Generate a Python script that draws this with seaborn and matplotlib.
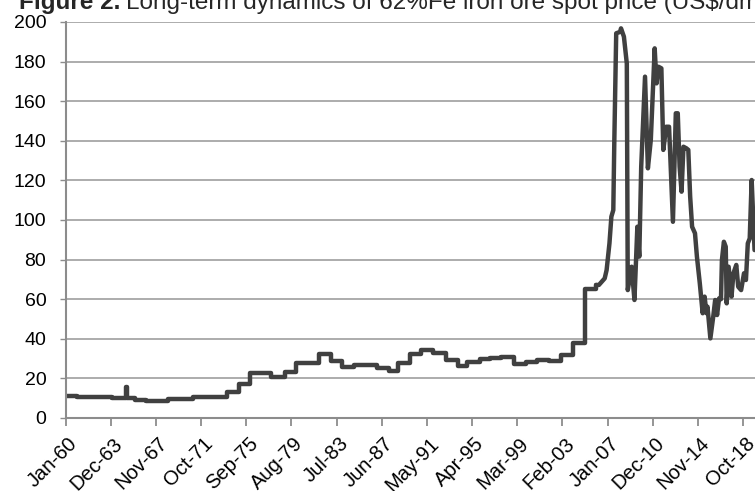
import pandas as pd
import matplotlib
matplotlib.use("Agg")
import matplotlib.pyplot as plt
import matplotlib.dates as mdates
import matplotlib.transforms as mtransforms
import seaborn as sns

# annual / contract period prices (step changes), US$/dmt
step_dates = ['1960-01', '1961-01', '1964-01', '1965-04', '1965-05', '1966-01', '1967-01',
              '1968-11', '1971-01', '1974-01', '1975-01', '1976-01', '1977-11', '1979-01',
              '1980-01', '1982-01', '1983-01', '1984-01', '1985-01', '1986-01', '1987-01',
              '1988-01', '1988-11', '1989-11', '1990-11', '1991-11', '1993-01', '1994-01',
              '1994-11', '1995-12', '1996-11', '1997-10', '1998-12', '1999-12', '2000-12',
              '2001-12', '2003-01', '2004-01', '2005-01', '2006-01']
step_prices = [11.3, 10.8, 9.9, 15.5, 9.9, 9.1, 8.6,
               9.6, 10.4, 13.0, 17.2, 22.6, 20.9, 23.4,
               27.9, 32.3, 28.9, 25.9, 26.9, 26.6, 25.1,
               23.9, 27.6, 32.2, 34.3, 33.0, 29.3, 26.4,
               28.1, 29.8, 30.3, 30.8, 27.3, 28.5, 29.3,
               29.0, 31.8, 37.7, 65.0, 67.2]

# spot market period
spot_dates = ['2006-04', '2006-10', '2006-12', '2007-03', '2007-05', '2007-07', '2007-08',
              '2007-10', '2008-02', '2008-03', '2008-06', '2008-09', '2008-10', '2009-02',
              '2009-05', '2009-08', '2009-10', '2009-12', '2010-04', '2010-07', '2010-10',
              '2011-02', '2011-04', '2011-06', '2011-09', '2011-11', '2012-02', '2012-05',
              '2012-06', '2012-09', '2012-12', '2013-02', '2013-04', '2013-06', '2013-08',
              '2013-11', '2014-01', '2014-03', '2014-05', '2014-08', '2014-10', '2015-01',
              '2015-04', '2015-06', '2015-08', '2015-09', '2015-12', '2016-03', '2016-05',
              '2016-07', '2016-09', '2016-11', '2016-12', '2017-02', '2017-04', '2017-05',
              '2017-07', '2017-10', '2017-12', '2018-03', '2018-05', '2018-08', '2018-11',
              '2019-01', '2019-03', '2019-05', '2019-07', '2019-10']
spot_prices = [67.2, 70.5, 74.7, 88.2, 101.7, 105.0, 138.7,
               194.3, 195.0, 196.8, 192.6, 179.0, 64.6, 76.4,
               59.6, 96.6, 81.5, 126.9, 172.4, 126.1, 140.4,
               186.7, 169.0, 177.4, 176.6, 135.4, 147.1, 147.1,
               135.4, 99.1, 153.9, 153.9, 126.9, 114.3, 137.0,
               136.2, 135.4, 111.8, 96.6, 93.3, 81.5, 67.9,
               52.9, 61.3, 52.9, 56.2, 40.2, 51.2, 59.6,
               52.0, 60.4, 60.0, 79.8, 89.0, 86.5, 57.9,
               76.4, 61.3, 73.1, 77.3, 66.3, 64.6, 73.1,
               69.7, 88.2, 90.7, 120.2, 84.8]

tick_labels = ['Jan-60', 'Dec-63', 'Nov-67', 'Oct-71', 'Sep-75', 'Aug-79', 'Jul-83', 'Jun-87',
               'May-91', 'Apr-95', 'Mar-99', 'Feb-03', 'Jan-07', 'Dec-10', 'Nov-14', 'Oct-18']

title_bold = 'Figure 2.'
title_rest = 'Long-term dynamics of 62%Fe iron ore spot price (US$/dmt)'

df_step = pd.DataFrame({'date': pd.to_datetime(step_dates), 'price': step_prices})
df_spot = pd.DataFrame({'date': pd.to_datetime(step_dates[-1:] + spot_dates),
                        'price': step_prices[-1:] + spot_prices})

sns.set_theme(style="white")
plt.rcParams['font.family'] = ['Liberation Sans', 'DejaVu Sans']

W, H = 755, 491
fig = plt.figure(figsize=(W / 100, H / 100), dpi=100)
ax = fig.add_axes([65.7 / W, 1 - 418 / H, 1 - 65.7 / W, (418 - 22) / H])

line_kw = dict(color='#404040', linewidth=3.2, solid_joinstyle='round', solid_capstyle='round')
sns.lineplot(data=df_step, x='date', y='price', drawstyle='steps-post', ax=ax, **line_kw)
sns.lineplot(data=df_spot, x='date', y='price', ax=ax, **line_kw)

ax.set_ylim(0, 200)
ax.set_yticks(range(0, 201, 20))
ax.set_xlim(pd.Timestamp('1960-01-01'), pd.Timestamp('2019-10-15'))
ticks = pd.date_range('1960-01-01', periods=len(tick_labels), freq='47MS')
ax.set_xticks(ticks)
ax.set_xticklabels([])
ax.set_xlabel('')
ax.set_ylabel('')

# rotated date labels, anchored a little right of and below each tick
lab_off = mtransforms.ScaledTranslation(2 / 100, -16 / 100, fig.dpi_scale_trans)
for d, lab in zip(ticks, tick_labels):
    ax.text(mdates.date2num(d), 0, lab, transform=ax.get_xaxis_transform() + lab_off,
            rotation=45, rotation_mode='anchor', ha='right', va='top',
            fontsize=14.5, color='black', clip_on=False)

ax.yaxis.grid(True, color='#a6a6a6', linewidth=1.3)
ax.xaxis.grid(False)
ax.set_axisbelow(True)
for s in ['top', 'right']:
    ax.spines[s].set_visible(False)
for s in ['left', 'bottom']:
    ax.spines[s].set_color('#8c8c8c')
    ax.spines[s].set_linewidth(1.5)
ax.tick_params(axis='y', direction='out', length=4, width=1, color='#8c8c8c',
               labelsize=14, labelcolor='black', pad=10, left=True)
ax.tick_params(axis='x', direction='out', length=6, width=1.3, color='#8c8c8c', bottom=True)

t1 = fig.text(19 / W, 1 - 9 / H, title_bold, fontsize=17.5, fontweight='bold', va='baseline')
fig.canvas.draw()
bb = t1.get_window_extent()
fig.text(bb.x1 / W + 6 / W, 1 - 9 / H, title_rest, fontsize=17.5, va='baseline')

fig.savefig('out.png', dpi=100)
plt.close(fig)
